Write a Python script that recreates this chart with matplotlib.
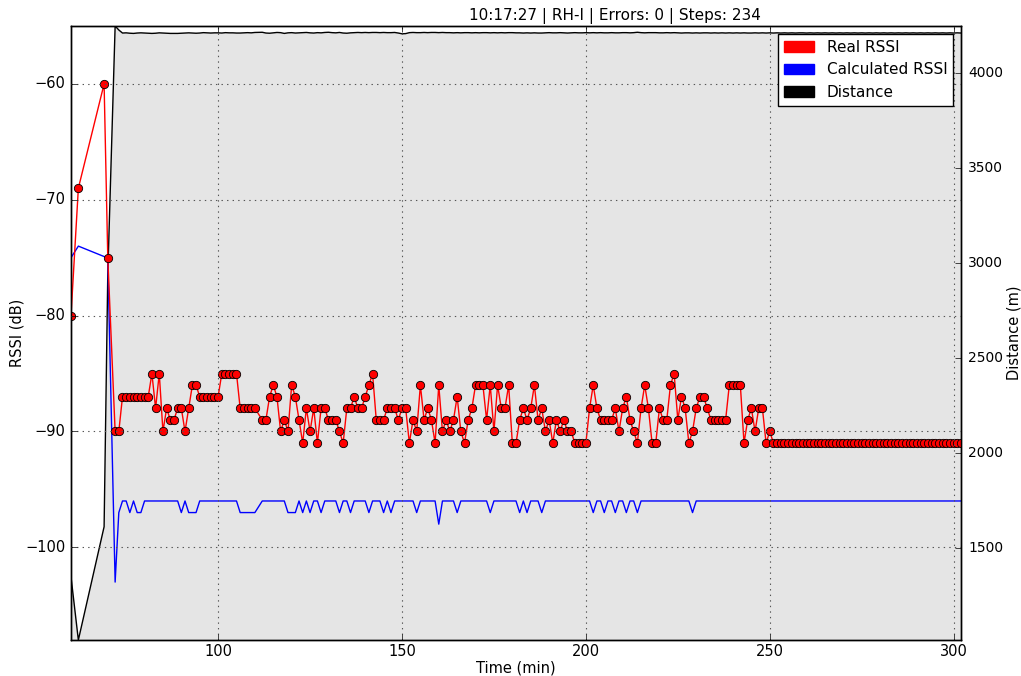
import matplotlib
matplotlib.use('Agg')
import matplotlib.pyplot as plt
import matplotlib.patches as mpatches

plt.style.use('classic')
plt.rcParams['font.family'] = ['DejaVu Sans']

title = '10:17:27 | RH-I | Errors: 0 | Steps: 234'

# sample times (min)
times = [60, 62, 69, 70,
         72, 73, 74, 75, 76, 77, 78, 79, 80, 81,
         82, 83, 84, 85, 86, 87, 88, 89, 90, 91,
         92, 93, 94, 95, 96, 97, 98, 99, 100, 101,
         102, 103, 104, 105, 106, 107, 108, 109, 110,
         112, 113, 114, 115, 116, 117, 118, 119, 120, 121,
         122, 123, 124, 125, 126, 127, 128, 129, 130, 131,
         132, 133, 134, 135, 136, 137, 138, 139, 140, 141,
         142, 143, 144, 145, 146, 147, 148, 149, 150, 151,
         152, 153, 154, 155, 156, 157, 158, 159, 160, 161,
         162, 163, 164, 165, 166, 167, 168, 169, 170, 171,
         172, 173, 174, 175, 176, 177, 178, 179, 180, 181,
         182, 183, 184, 185, 186, 187, 188, 189, 190, 191,
         192, 193, 194, 195, 196, 197, 198, 199, 200, 201,
         202, 203, 204, 205, 206, 207, 208, 209, 210, 211,
         212, 213, 214, 215, 216, 217, 218, 219, 220, 221,
         222, 223, 224, 225, 226, 227, 228, 229, 230, 231,
         232, 233, 234, 235, 236, 237, 238, 239, 240, 241,
         242, 243, 244, 245, 246, 247, 248, 249, 250, 251,
         252, 253, 254, 255, 256, 257, 258, 259, 260, 261,
         262, 263, 264, 265, 266, 267, 268, 269, 270, 271,
         272, 273, 274, 275, 276, 277, 278, 279, 280, 281,
         282, 283, 284, 285, 286, 287, 288, 289, 290, 291,
         292, 293, 294, 295, 296, 297, 298, 299, 300, 301,
         302]

real_rssi = [-80, -69, -60, -75,
             -90, -90, -87, -87, -87, -87, -87, -87, -87, -87,
             -85, -88, -85, -90, -88, -89, -89, -88, -88, -90,
             -88, -86, -86, -87, -87, -87, -87, -87, -87, -85,
             -85, -85, -85, -85, -88, -88, -88, -88, -88,
             -89, -89, -87, -86, -87, -90, -89, -90, -86, -87,
             -89, -91, -88, -90, -88, -91, -88, -88, -89, -89,
             -89, -90, -91, -88, -88, -87, -88, -88, -87, -86,
             -85, -89, -89, -89, -88, -88, -88, -89, -88, -88,
             -91, -89, -90, -86, -89, -88, -89, -91, -86, -90,
             -89, -90, -89, -87, -90, -91, -89, -88, -86, -86,
             -86, -89, -86, -90, -86, -88, -88, -86, -91, -91,
             -89, -88, -89, -88, -86, -89, -88, -90, -89, -91,
             -89, -90, -89, -90, -90, -91, -91, -91, -91, -88,
             -86, -88, -89, -89, -89, -89, -88, -90, -88, -87,
             -89, -90, -91, -88, -86, -88, -91, -91, -88, -89,
             -89, -86, -85, -89, -87, -88, -91, -90, -88, -87,
             -87, -88, -89, -89, -89, -89, -89, -86, -86, -86,
             -86, -91, -89, -88, -90, -88, -88, -91, -90, -91,
             -91, -91, -91, -91, -91, -91, -91, -91, -91, -91,
             -91, -91, -91, -91, -91, -91, -91, -91, -91, -91,
             -91, -91, -91, -91, -91, -91, -91, -91, -91, -91,
             -91, -91, -91, -91, -91, -91, -91, -91, -91, -91,
             -91, -91, -91, -91, -91, -91, -91, -91, -91, -91,
             -91]

calc_rssi = [-75, -74, -74.9, -75,
             -103, -97, -96, -96, -97, -96, -97, -97, -96, -96,
             -96, -96, -96, -96, -96, -96, -96, -96, -97, -96,
             -97, -97, -97, -96, -96, -96, -96, -96, -96, -96,
             -96, -96, -96, -96, -97, -97, -97, -97, -97,
             -96, -96, -96, -96, -96, -96, -96, -97, -97, -97,
             -96, -97, -96, -97, -96, -96, -97, -96, -96, -96,
             -96, -97, -96, -96, -97, -96, -96, -96, -96, -97,
             -96, -96, -96, -97, -96, -97, -96, -96, -96, -96,
             -96, -96, -97, -96, -96, -96, -96, -96, -98, -96,
             -96, -96, -96, -97, -96, -96, -96, -96, -96, -96,
             -96, -96, -97, -96, -96, -96, -96, -96, -96, -96,
             -97, -96, -97, -96, -96, -96, -97, -96, -96, -96,
             -96, -96, -96, -96, -96, -96, -96, -96, -96, -96,
             -97, -96, -96, -97, -96, -96, -97, -96, -96, -97,
             -96, -96, -97, -96, -96, -96, -96, -96, -96, -96,
             -96, -96, -96, -96, -96, -96, -96, -97, -96, -96,
             -96, -96, -96, -96, -96, -96, -96, -96, -96, -96,
             -96, -96, -96, -96, -96, -96, -96, -96, -96, -96,
             -96, -96, -96, -96, -96, -96, -96, -96, -96, -96,
             -96, -96, -96, -96, -96, -96, -96, -96, -96, -96,
             -96, -96, -96, -96, -96, -96, -96, -96, -96, -96,
             -96, -96, -96, -96, -96, -96, -96, -96, -96, -96,
             -96, -96, -96, -96, -96, -96, -96, -96, -96, -96,
             -96]

distance = [1349, 1016, 1612, 2940,
            4247, 4226, 4210, 4211, 4209, 4208, 4210, 4211, 4210, 4209,
            4208, 4209, 4211, 4210, 4209, 4208, 4208, 4208, 4209, 4210,
            4211, 4210, 4209, 4210, 4212, 4211, 4210, 4211, 4211, 4210,
            4212, 4211, 4211, 4210, 4210, 4211, 4212, 4211, 4213,
            4214, 4210, 4209, 4211, 4213, 4212, 4208, 4211, 4212, 4210,
            4211, 4212, 4213, 4211, 4210, 4212, 4211, 4213, 4214, 4212,
            4211, 4213, 4210, 4209, 4211, 4212, 4213, 4212, 4213, 4212,
            4213, 4213, 4212, 4213, 4212, 4212, 4213, 4210, 4206, 4207,
            4212, 4213, 4212, 4212, 4213, 4212, 4213, 4213, 4212, 4213,
            4212, 4212, 4211, 4212, 4211, 4212, 4212, 4211, 4212, 4211,
            4212, 4212, 4211, 4212, 4211, 4212, 4211, 4212, 4212, 4211,
            4211, 4210, 4211, 4210, 4211, 4210, 4210, 4211, 4212, 4211,
            4211, 4212, 4211, 4210, 4211, 4212, 4211, 4211, 4212, 4211,
            4212, 4211, 4212, 4211, 4211, 4212, 4211, 4211, 4212, 4212,
            4211, 4212, 4214, 4212, 4211, 4212, 4212, 4212, 4211, 4211,
            4212, 4211, 4212, 4211, 4210, 4211, 4211, 4210, 4211, 4210,
            4211, 4211, 4210, 4211, 4210, 4211, 4210, 4211, 4210, 4211,
            4210, 4211, 4210, 4210, 4211, 4210, 4211, 4210, 4211, 4210,
            4211, 4210, 4211, 4210, 4211, 4210, 4211, 4211, 4210, 4211,
            4210, 4211, 4210, 4211, 4210, 4211, 4210, 4211, 4210, 4211,
            4210, 4211, 4210, 4211, 4210, 4211, 4210, 4211, 4210, 4211,
            4210, 4211, 4210, 4211, 4210, 4211, 4210, 4211, 4210, 4211,
            4210, 4211, 4210, 4211, 4210, 4211, 4210, 4211, 4210, 4211,
            4210]

fig = plt.figure(figsize=(10.21, 6.76), dpi=100, facecolor='white')
ax1 = fig.add_axes([71 / 1021, 36 / 676, 890 / 1021, 614 / 676])
ax2 = ax1.twinx()

# distance drawn underneath as a filled profile
ax2.fill_between(times, distance, 0, facecolor='#e5e5e5', edgecolor='none')
ax2.plot(times, distance, color='k', lw=1)
ax2.set_ylim(min(distance), max(distance))
ax2.set_yticks([1500, 2000, 2500, 3000, 3500, 4000])
ax2.set_ylabel('Distance (m)', fontsize=10.5)
ax2.yaxis.set_label_coords(1.051, 0.5)

ax1.set_zorder(ax2.get_zorder() + 1)
ax1.patch.set_visible(False)
ax1.plot(times, calc_rssi, color='b', lw=1)
ax1.plot(times, real_rssi, color='r', lw=1, marker='o', ms=6, mfc='r', mec='k', mew=0.6)

ymin = min(min(real_rssi), min(calc_rssi)) - 5
ymax = max(max(real_rssi), max(calc_rssi)) + 5
ax1.set_ylim(ymin, ymax)
ax1.set_xlim(min(times), max(times))
ax1.set_xticks([100, 150, 200, 250, 300])
ax1.set_yticks([-100, -90, -80, -70, -60])
ax1.grid(True, color='#555555', linestyle=':', lw=0.8)
ax1.set_xlabel('Time (min)', fontsize=10.5)
ax1.set_ylabel('RSSI (dB)', fontsize=10.5)
ax1.xaxis.set_label_coords(0.5, -0.034)
ax1.yaxis.set_label_coords(-0.052, 0.5)
ax1.tick_params(axis='x', labelsize=10.5, pad=3)
ax1.tick_params(axis='y', labelsize=10.5)
ax2.tick_params(axis='y', labelsize=10, pad=5)

handles = [mpatches.Patch(color='red', label='Real RSSI'),
           mpatches.Patch(color='blue', label='Calculated RSSI'),
           mpatches.Patch(color='black', label='Distance')]
ax1.legend(handles=handles, loc='upper right', fontsize=11, fancybox=False)

fig.text(615 / 1021, 1 - 16 / 676, title, ha='center', va='center', fontsize=11)

fig.savefig('out.png', dpi=100, facecolor='white')
